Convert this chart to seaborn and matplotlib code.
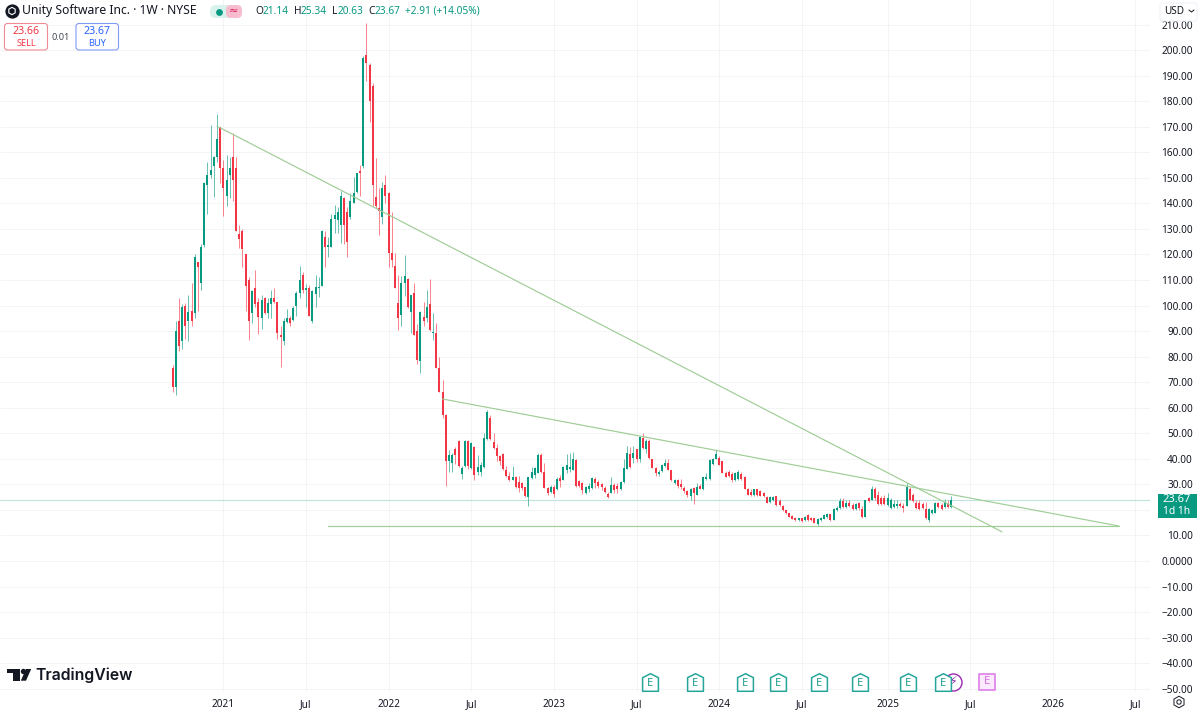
#!/usr/bin/env python3
# Unity Software weekly candles, TradingView look
import matplotlib
matplotlib.use("Agg")
import matplotlib.pyplot as plt
from matplotlib.patches import FancyBboxPatch
from matplotlib.path import Path
import pandas as pd
import seaborn as sns

# weekly bars, first one is the IPO week
first_week = "2020-09-14"

opens = [75.5,68,94,86,100,94,98,97,117,109,
         123.5,147,151,154.6,158,170,154,143,151,158,
         154,128,129,120,110,97,107,101.5,95,103,
         97,100.6,103,101.5,88.5,86,93.5,95,94.5,100,
         105,112,106,107,94,104.5,107,107.6,127,123,
         123,134,133.5,131.5,142,136.7,134.6,140,144.5,152.8,
         154.6,198,194,186,142.6,138,134.8,147,144,120.5,
         115.6,101,96.3,109,110.4,97.6,105,90,78.4,95.6,
         95,100.6,89.4,89.2,75.5,66.3,57,39,38.5,44,
         47,34,37,47,36.5,44.7,35,35,36.8,47.7,
         56,46.7,44.2,41,42,35.6,33.3,31.7,33,31,
         30.4,29,25.2,32.5,33.7,34.4,41.5,35,28.7,26.8,
         29,28.2,32.5,31.7,35.6,36,35.6,39.5,31.3,30.5,
         26.5,28,28.4,32,31,30,28.7,26.4,26.7,29.7,
         29.4,28,31,36,42,40.3,43.7,39.8,48,43.7,
         47,40,36.2,34,35.2,37,38.5,35.5,30.5,31.7,
         30,28.4,27.5,25.4,28.5,26,29.5,28.1,32,32,
         37.8,39.8,40.2,39,34.6,34.8,34,31.7,32,34,
         32.9,28.2,27,25.8,28,27.2,26.5,25,22.9,24,
         25.3,23.6,21.6,19.8,18.7,17.6,16.9,16,16.8,15.9,
         18,17,16.8,14.4,16,16.6,17.2,18.2,16.1,19.9,
         20.8,23.4,21,22.6,22,20.3,22.5,20.2,17.3,24.5,
         24,28,25.8,24.6,24.8,21.9,20.8,21.2,21.5,22.2,
         21.4,21.6,28,25.8,22.8,22.8,22.2,20.2,15.9,18.8,
         18.9,22.6,21.9,21,22.4,21.14]

highs = [76.7,94,103,100.5,101,104,109,120,117,124,
         148.5,156,170.6,158.5,175,170,157,159,158,167.5,
         158,131.5,130,120,111,106,114,103,104,103.5,
         103,106,107,101.5,92,95,98.6,96,100,105.5,
         115.6,113,108.4,108,106,112,111,129.5,129,127,
         136,139.3,138.7,145,142.5,138.7,144,150.4,152,155,
         197.5,210.5,195,187,157.6,146,148.5,151,144.5,136.7,
         120.7,112,111.4,119.8,110.7,104,108.8,92.8,98,101.5,
         106,110.4,97,93,80,70.8,57.5,43.4,42.3,44.6,
         47.4,37.2,47.4,47.4,46.7,45,41.5,38.9,50,59.2,
         57,50,45.8,41.5,42.4,37.2,35,37.2,33.3,33.3,
         31,29,33,36.9,36.8,42.4,42.2,38.5,29,29.7,
         29.7,33,33.7,37.2,41.9,42.4,42.8,39.8,31.7,31,
         29.4,30.6,32.8,32.8,31.7,30.6,29.4,27,32.8,30.5,
         30.5,31.4,39.8,45,44.5,45,43.8,48.7,50.2,47.6,
         47.6,40.1,36.7,35.6,38,39.8,39.8,35.6,32,32,
         32,29.4,27.8,28.5,28.8,30.5,30,33,34.3,39.8,
         40.2,43.4,41,39.2,35.3,35.5,35,35,35.6,35,
         33.3,28.5,28,28.3,28.3,27.8,27,25.4,25.3,25.5,
         25.4,24.1,21.8,20,18.9,18,17.1,17,17,17.7,
         18.4,17.3,17,16.7,17.2,18.4,18.6,18.4,20.7,21.5,
         24.5,24.5,24,24,22.5,22.6,23,21.5,24,25,
         29.5,29,27.5,25.6,26,26.5,24.5,24,24,23,
         22.8,30.7,28.8,26.5,24,24,23,23,20.8,20.4,
         22.9,23.2,22.5,24.2,24,25.34]

lows = [66,65,82,83,87,86,92,95,98,106,
        123,136,150,142.6,156,148,135,139,142,141,
        129,122.5,115,98,86.5,93,99.5,89,91,96.5,
        95,95,101,87,76,84.5,93,92,94,96,
        103,105,99.4,96,93,99.5,103.4,107.5,115,119,
        123,128.4,128.4,124.6,124,119,134,140,144,143,
        154,188,172,139,138,127.6,132,140,115,115,
        106.8,90.4,92,103.7,99,89.4,88.5,77,73.5,92,
        93.7,90,86.5,75.5,66,56,29.4,35,35,38,
        36.8,32,36.8,36,36,31.7,33.7,33.3,36.4,47.4,
        47.4,43.8,39.2,37.6,35.6,32.9,31.4,31.7,28.6,27,
        27.8,25,21.5,32,32.5,34.4,34.4,28.7,25.8,26.6,
        25,27.8,29,31.7,34.4,35,35.6,29,29,26.2,
        26.2,27,28.2,28.6,28.6,27.8,26.6,24.6,26.6,26.6,
        26.7,27.7,30.6,35.9,36.5,38.2,38.9,38.9,43.7,42.4,
        40,36.2,33.3,33.3,35,36.7,35.6,31.4,30.1,28.5,
        28.2,26.6,25.2,23.9,22.3,26,28,27.9,31.7,31.7,
        37.6,39.8,37.5,34.3,32.8,32.8,31,31.4,31.7,31.7,
        28,25.8,25.6,25.6,25.6,25.3,25.2,22.5,22.7,23.6,
        21.5,21.5,19.7,18.4,17.1,16.3,15.8,15.7,15.4,15.7,
        15.7,15.5,14.7,13.7,15.8,16.3,16.9,15.8,15.9,19.5,
        20.5,20.6,20.8,21,20,20,20,17,17.1,23,
        23.8,24,21.9,21.8,22,21.6,20.5,20.7,20.8,21,
        19.3,21.4,23.8,23.2,20.5,20,20.3,16.5,15.3,18.4,
        18.6,20.8,20,20.8,20.7,20.63]

closes = [68.2,90,84,99.5,92,97.6,94,119,115,123,
          148,151,153,158,165,154,146,149,154,149,
          129,126,122,107.6,94,105.8,100.6,95.5,102,97,
          101,103,101.5,89.4,87.5,94,95,93,99,105,
          110,106,106.7,96,105.8,107.4,107.4,129,123,123.7,
          134,135.4,136.7,143,131.5,125,141,144,152,152,
          197,195,180,147,139,137,146,143,120.5,118,
          107,95,108.8,111.4,99.4,104,88.5,78.7,97.6,94,
          99.4,90.4,89.7,75.5,66.3,57,39.2,41.5,41.5,41.5,
          37,36.4,47,37,46,33.7,36.8,37.6,48.3,58.4,
          47.7,44.2,41,39,36,33.3,31.7,33,28.8,28.7,
          28.7,25.3,32.7,35,36.4,41.5,35,28.7,26.6,29,
          26.2,32,31.3,36.8,37.6,36.8,40,29.3,29.2,27.8,
          29,29.5,32.5,30.5,29.5,28.8,27,25,29.7,27.8,
          28,30.9,36.3,42.4,36.7,42.2,39.8,48.4,44.1,47,
          40.2,36.5,34.3,35,37.6,38.2,35.6,31.7,31.7,29.5,
          28.8,27.3,25.7,28.2,26.5,29,28.3,32.8,33,39.5,
          39.8,41.8,37.6,34.4,33,33.3,31.7,34.4,35,32,
          28.3,26,25.8,28,25.8,25.5,25.5,22.8,25,25.2,
          21.8,21.9,19.9,18.6,17.4,16.6,16,16.8,15.8,17.4,
          16,16,14.9,16.4,17,18,18.4,16,20.4,20.9,
          23.4,21,22.6,21.4,20.4,22.2,20.6,17.3,23.8,23.3,
          28.2,24.5,22.2,22.4,22.3,24.8,23.7,22.4,22.2,21.6,
          20.7,29,24,23.5,20.8,20.5,20.7,17,20.5,20,
          22.7,21.1,20.2,23.2,21,23.67]

# the three drawn trend lines, start and end
trend_names = ["long", "long", "short", "short", "floor", "floor"]
trend_dates = ["2020-12-21", "2025-09-15", "2022-05-02", "2026-05-30", "2021-08-23", "2026-05-30"]
trend_prices = [170.2, 11.4, 63.4, 13.7, 13.7, 13.7]

earnings_dates = ["2023-08-02", "2023-11-09", "2024-02-26", "2024-05-09",
                  "2024-08-08", "2024-11-07", "2025-02-20", "2025-05-07"]
next_earnings = "2025-08-12"
split_date = "2025-05-29"

# 20.00 sits under the last price tag, so it gets no text
price_ticks = [210, 200, 190, 180, 170, 160, 150, 140, 130, 120, 110, 100, 90, 80, 70, 60,
               50, 40, 30, 20, 10, 0, -10, -20, -30, -40, -50]
price_labels = ["210.00", "200.00", "190.00", "180.00", "170.00", "160.00", "150.00", "140.00",
                "130.00", "120.00", "110.00", "100.00", "90.00", "80.00", "70.00", "60.00",
                "50.00", "40.00", "30.00", "", "10.00", "0.0000", "\u221210.00", "\u221220.00",
                "\u221230.00", "\u221240.00", "\u221250.00"]

time_ticks = ["2021-01-04", "2021-07-05", "2022-01-03", "2022-07-04", "2023-01-02", "2023-07-03",
              "2024-01-01", "2024-07-01", "2025-01-06", "2025-07-07", "2026-01-05", "2026-07-06"]
time_labels = ["2021", "Jul", "2022", "Jul", "2023", "Jul", "2024", "Jul", "2025", "Jul", "2026", "Jul"]

GREEN = "#089981"
RED = "#f23645"
BLUE = "#2962ff"
TEXT = "#131722"
LINE = "#9fcd96"
GRID = "#f3f4f6"
PURPLE = "#9c27b0"

sns.set_theme(style="white")
plt.rcParams["font.family"] = ["Noto Sans", "DejaVu Sans"]

candles = pd.DataFrame({"open": opens, "high": highs, "low": lows, "close": closes})
candles["date"] = pd.date_range(first_week, periods=len(candles), freq="7D")
candles["bar"] = range(len(candles))
candles["side"] = ["up" if c >= o else "down" for o, c in zip(opens, closes)]

wicks = candles.melt(id_vars=["date", "bar", "side"], value_vars=["low", "high"], value_name="price")
bodies = candles.melt(id_vars=["date", "bar", "side"], value_vars=["open", "close"], value_name="price")
trends = pd.DataFrame({"name": trend_names, "date": pd.to_datetime(trend_dates), "price": trend_prices})

fig = plt.figure(figsize=(12, 7.14), dpi=100)
ax = fig.add_axes([0, 22 / 714, 1150 / 1200, 692 / 714])

# candles
palette = {"up": GREEN, "down": RED}
sns.lineplot(data=wicks, x="date", y="price", hue="side", units="bar", estimator=None, palette=palette,
             legend=False, linewidth=0.72, alpha=0.6, solid_capstyle="butt", ax=ax)
sns.lineplot(data=bodies, x="date", y="price", hue="side", units="bar", estimator=None, palette=palette,
             legend=False, linewidth=1.45, solid_capstyle="butt", ax=ax)

# trend lines and last price
sns.lineplot(data=trends, x="date", y="price", units="name", estimator=None, color=LINE,
             linewidth=0.85, ax=ax)
ax.axhline(closes[-1], color="#bfe3dd", linewidth=0.8, zorder=1)

# earnings flags along the bottom
flag_y = -47.2
house = Path([(-0.9, -1), (0.9, -1), (0.9, 0.55), (0, 1), (-0.9, 0.55), (-0.9, -1)], closed=True)
flags = pd.DataFrame({"date": pd.to_datetime(earnings_dates), "y": flag_y})
sns.scatterplot(x=[pd.Timestamp(split_date)], y=[flag_y], marker="o", s=150, color="white",
                edgecolor=PURPLE, linewidth=1, ax=ax, zorder=5)
ax.text(pd.Timestamp(split_date) + pd.Timedelta(days=2), flag_y, "\u26a1", color=PURPLE, fontsize=9,
        ha="center", va="center", family="DejaVu Sans", zorder=6)
sns.scatterplot(data=flags, x="date", y="y", marker=house, s=160, color="white", edgecolor="#26a69a",
                linewidth=1.1, ax=ax, zorder=7)
sns.scatterplot(x=[pd.Timestamp(next_earnings)], y=[flag_y], marker="s", s=130, color="#fbeafd",
                edgecolor="#dd7fe9", linewidth=1.2, ax=ax, zorder=7)
for d in earnings_dates:
    ax.text(pd.Timestamp(d), flag_y - 0.6, "E", color="#1e9e8f", fontsize=8, ha="center", va="center",
            fontweight="medium", zorder=8)
ax.text(pd.Timestamp(next_earnings), flag_y, "E", color="#d86ce6", fontsize=8, ha="center", va="center",
        fontweight="medium", zorder=8)

# axes
ax.set_xlim(pd.Timestamp("2019-08-31"), pd.Timestamp("2026-08-07"))
ax.set_ylim(-51.3, 219.6)
ax.set_xticks(pd.to_datetime(time_ticks))
ax.set_xticklabels(time_labels)
ax.set_yticks(price_ticks)
ax.set_yticklabels(price_labels)
ax.yaxis.tick_right()
ax.set(xlabel="", ylabel="")
ax.grid(True, color=GRID, linewidth=0.7)
ax.set_axisbelow(True)
ax.tick_params(axis="y", length=0, pad=31, labelsize=7.2, labelcolor=TEXT)
ax.tick_params(axis="x", length=0, pad=5, labelsize=7.2, labelcolor=TEXT)
for lab in ax.get_yticklabels():
    lab.set_ha("right")
for lab in ax.get_xticklabels():
    if lab.get_text() != "Jul":
        lab.set_fontweight("semibold")
sns.despine(ax=ax, left=True, right=True, top=True, bottom=True)

# everything else is screen furniture, placed in pixels
ui = fig.add_axes([0, 0, 1, 1])
ui.set_xlim(0, 1200)
ui.set_ylim(714, 0)
ui.axis("off")
ui.patch.set_alpha(0)


def label(x, y, s, color=TEXT, size=7.2, ha="left", **kw):
    ui.text(x, y, s, color=color, fontsize=size, ha=ha, va="center", **kw)


def box(x0, y0, x1, y1, face, edge, r=3, lw=0.8):
    ui.add_patch(FancyBboxPatch((x0 + r, y0 + r), x1 - x0 - 2 * r, y1 - y0 - 2 * r,
                                boxstyle=f"round,pad={r},rounding_size={r}",
                                facecolor=face, edgecolor=edge, linewidth=lw))


# title row
ui.scatter([12], [11], s=105, color="#131722", linewidths=0)
ui.scatter([12], [11], s=28, marker="h", facecolor="none", edgecolor="white", linewidths=0.8)
label(22.5, 10.5, "Unity Software Inc. \u00b7 1W \u00b7 NYSE", size=8.75)
box(210, 5, 242, 18, "#d9f2ee", "none", r=6, lw=0)
box(226, 5, 242, 18, "#f8bccf", "none", r=5, lw=0)
ui.scatter([219], [11.5], s=24, color=GREEN, linewidths=0)
label(234, 11, "\u2248", color="#d81b60", size=8, ha="center")
ohlc = [(255, "O", TEXT), (263, "21.14", GREEN), (294, "H", TEXT), (301, "25.34", GREEN), (332, "L", TEXT),
        (338, "20.63", GREEN), (368, "C", TEXT), (375, "23.67", GREEN), (405, "+2.91 (+14.05%)", GREEN)]
for x, s, c in ohlc:
    label(x, 11, s, color=c, size=7.3)

# sell and buy buttons
box(4.5, 23.5, 47.5, 50, "white", "#f08a94")
label(26, 32, "23.66", color=RED, size=7.6, ha="center", fontweight="semibold")
label(26, 43, "SELL", color=RED, size=6.6, ha="center")
label(61, 37, "0.01", color="#434651", size=6.6, ha="center")
box(76, 23.5, 118.5, 50, "white", "#7f9cf5")
label(97, 32, "23.67", color=BLUE, size=7.6, ha="center", fontweight="semibold")
label(97, 43, "BUY", color=BLUE, size=6.6, ha="center")

# currency box over the top of the price scale
box(1160, 3, 1197, 21, "white", "#f0f3fa")
label(1164, 11, "USD", size=7.2)
ui.plot([1189, 1191.5, 1194], [10, 12, 10], color=TEXT, linewidth=0.7)

# last price tag
ui.fill_between([1157.5, 1196.5], 493.5, 518, color=GREEN, linewidth=0)
label(1177, 500, "23.67", color="white", size=8, ha="center")
label(1177, 511.5, "1d 1h", color="white", size=7.4, ha="center")

# logo
ui.fill([7.3, 20, 20, 13.3, 13.3, 7.3], [669, 669, 680.7, 680.7, 673.4, 673.4], color="#131722", linewidth=0)
ui.scatter([22.7], [671], s=15, color="#131722", linewidths=0)
ui.fill([26, 31.2, 26, 20.8], [669, 669, 680.7, 680.7], color="#131722", linewidth=0)
label(35.5, 675.5, "TradingView", size=11.4, family="Inter", fontweight="semibold")

# settings gear
ui.scatter([1179], [702], s=70, marker="h", facecolor="none", edgecolor=TEXT, linewidths=0.7)
ui.scatter([1179], [702], s=10, marker="o", facecolor="none", edgecolor=TEXT, linewidths=0.7)

fig.savefig("out.png", dpi=100)
